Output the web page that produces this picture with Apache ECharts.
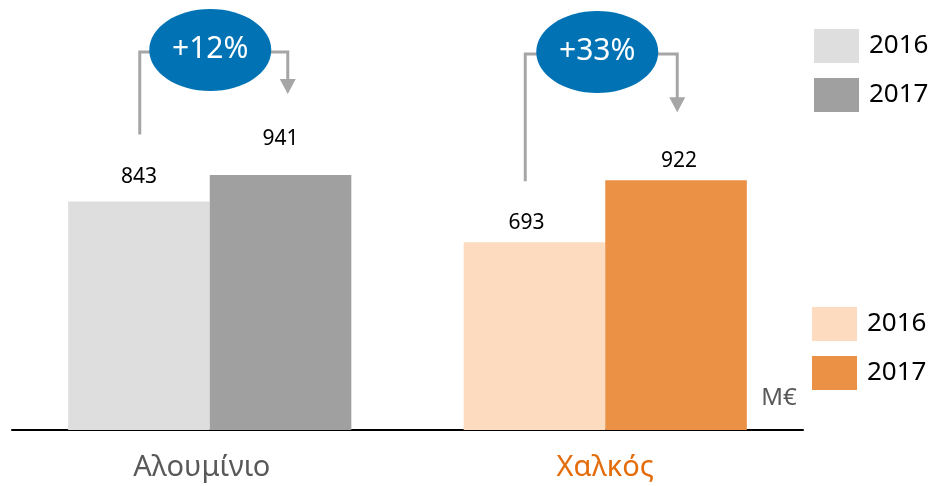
<!DOCTYPE html>
<html><head><meta charset="utf-8">
<script src="https://cdn.jsdelivr.net/npm/echarts@6/dist/echarts.min.js"></script>
<style>html,body{margin:0;padding:0;background:#fff}#c{width:931px;height:486px}</style>
</head><body><div id="c"></div>
<script>
const categories = ['Αλουμίνιο', 'Χαλκός'];
const years = ['2016', '2017'];
const aluminium = [843, 941];
const copper = [693, 922];
const unitLabel = 'M€';

const FONT = '"Noto Sans", sans-serif';
const chart = echarts.init(document.getElementById('c'));
const colors = [['#dedede', '#a0a0a0'], ['#fcdbbf', '#eb9146']];
const labelOffsets = [[[0, -5], [0, -16]], [[-8, 0], [3, 0]]];
const groups = [aluminium, copper];

const series = [];
years.forEach((yr, yi) => {
  groups.forEach((vals, gi) => {
    series.push({
      name: categories[gi] + ' ' + yr,
      type: 'bar',
      stack: 'y' + yr,
      barGap: 0,
      barCategoryGap: '28.4%',
      itemStyle: { color: colors[gi][yi] },
      label: { show: true, position: 'top', distance: 9, color: '#000', fontSize: 21, fontFamily: FONT },
      data: categories.map((c, ci) => ci === gi ? { value: vals[yi], label: { offset: labelOffsets[gi][yi] } } : '-')
    });
  });
});

const legendBase = {
  orient: 'vertical', icon: 'rect', itemWidth: 45, itemHeight: 34, itemGap: 15,
  padding: 0, selectedMode: false,
  textStyle: { fontSize: 26, color: '#000', fontFamily: FONT, padding: [0, 0, 0, 5] },
  formatter: name => name.slice(-4)
};

chart.setOption({
  animation: false,
  grid: { left: 12, right: 128, top: 23.5, bottom: 56 },
  legend: [
    Object.assign({}, legendBase, { left: 814, top: 29, data: years.map(y => categories[0] + ' ' + y) }),
    Object.assign({}, legendBase, { left: 812, top: 307, data: years.map(y => categories[1] + ' ' + y) })
  ],
  xAxis: {
    type: 'category', data: categories,
    axisLine: { lineStyle: { color: '#000', width: 2 } },
    axisTick: { show: false },
    axisLabel: {
      margin: 23,
      formatter: (v, i) => i === 0 ? '{a|' + v + '}' : '{b|' + v + '}',
      rich: {
        a: { color: '#595959', fontSize: 29, fontFamily: FONT, padding: [0, 16, 0, 0] },
        b: { color: '#e46c0a', fontSize: 29, fontFamily: FONT }
      }
    }
  },
  yAxis: { type: 'value', min: 0, max: 1500, show: false, splitLine: { show: false } },
  series: series
});

// annotations
const ax = i => chart.convertToPixel({ xAxisIndex: 0 }, i);
const ay = v => chart.convertToPixel({ yAxisIndex: 0 }, v);
const annCfg = [
  { dl: -70, dr: 78, de: 0.5, cy: 50, gapL: 67, gapT: 81 },
  { dl: -80, dr: 72, de: -8, cy: 52, gapL: 61, gapT: 68 }
];
const grey = '#a6a6a6';
const elements = [];
groups.forEach((vals, gi) => {
  const c = annCfg[gi];
  const cx = ax(gi);
  const ex = cx + c.de, rx = 61, ry = 41;
  const lx = cx + c.dl, rxp = cx + c.dr;
  const lb = ay(vals[0]) - c.gapL;
  const tip = ay(vals[1]) - c.gapT;
  const pct = '+' + Math.round((vals[1] / vals[0] - 1) * 100) + '%';
  elements.push({ type: 'polyline', shape: { points: [[lx, lb], [lx, c.cy + 2], [ex - rx + 2, c.cy + 2]] }, style: { stroke: grey, lineWidth: 3, fill: null } });
  elements.push({ type: 'polyline', shape: { points: [[ex + rx - 2, c.cy + 2], [rxp, c.cy + 2], [rxp, tip - 14]] }, style: { stroke: grey, lineWidth: 3, fill: null } });
  elements.push({ type: 'polygon', shape: { points: [[rxp - 8, tip - 15], [rxp + 8, tip - 15], [rxp, tip]] }, style: { fill: grey } });
  elements.push({ type: 'ellipse', shape: { cx: ex, cy: c.cy, rx: rx, ry: ry }, style: { fill: '#0173b5' } });
  elements.push({ type: 'text', x: ex, y: c.cy - 1, style: { text: pct, fill: '#fff', font: '30px ' + FONT, align: 'center', verticalAlign: 'middle' } });
});
elements.push({ type: 'text', x: 779, y: 398, style: { text: unitLabel, fill: '#595959', font: '24px ' + FONT, align: 'center', verticalAlign: 'middle' } });
chart.setOption({ graphic: { elements: elements } });
</script>
</body></html>
